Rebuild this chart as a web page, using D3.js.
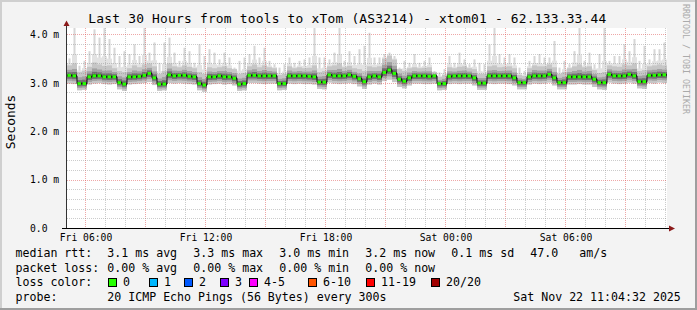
<!DOCTYPE html>
<html>
<head>
<meta charset="utf-8">
<script src="https://d3js.org/d3.v7.min.js"></script>
<style>
  body { margin: 0; background: #f3f3f3; }
  text { font-family: "DejaVu Sans Mono", monospace; fill: #000; }
</style>
</head>
<body>
<div id="chart"></div>
<script>
// ---- data (ms, one value per 15 minute bin) ----
const title = "Last 30 Hours from tools to xTom (AS3214) - xtom01 - 62.133.33.44";
const startTime = new Date(2025, 10, 21, 5, 4, 32);
const endTime = new Date(2025, 10, 22, 11, 4, 32);
const binMinutes = 15;

const median = [3.15,3.14,2.98,2.98,3.12,3.14,3.14,3.12,3.12,3.12,
  3.00,2.97,3.12,3.12,3.13,3.15,3.19,3.10,2.97,2.97,
  3.16,3.14,3.15,3.15,3.13,3.12,2.98,2.95,3.12,3.12,
  3.14,3.12,3.12,3.09,2.97,2.98,3.15,3.15,3.14,3.14,
  3.14,3.14,2.98,2.98,3.14,3.14,3.14,3.14,3.13,3.12,
  3.01,3.01,3.16,3.14,3.14,3.14,3.16,3.13,3.08,3.02,
  3.12,3.14,3.12,3.21,3.26,3.19,3.07,3.03,3.10,3.14,
  3.14,3.14,3.13,3.14,2.98,2.98,3.13,3.14,3.14,3.14,
  3.14,3.10,2.99,2.99,3.14,3.14,3.14,3.14,3.14,3.10,
  3.00,3.00,3.12,3.14,3.14,3.14,3.17,3.10,3.00,3.00,
  3.12,3.12,3.12,3.12,3.12,3.07,3.00,3.00,3.17,3.14,
  3.14,3.14,3.17,3.14,3.02,3.02,3.15,3.15,3.16,3.16];

const low = [2.98,2.97,2.84,2.85,2.96,2.98,2.99,2.97,2.96,2.97,
  2.86,2.83,2.96,2.97,2.98,2.99,3.01,2.95,2.83,2.84,
  2.99,2.98,2.99,2.98,2.97,2.96,2.84,2.81,2.96,2.97,
  2.98,2.96,2.97,2.94,2.83,2.84,2.99,2.99,2.98,2.97,
  2.98,2.98,2.84,2.85,2.98,2.97,2.98,2.97,2.97,2.96,
  2.87,2.86,3.00,2.98,2.97,2.98,2.99,2.97,2.92,2.87,
  2.96,2.98,2.96,3.03,3.06,3.01,2.91,2.88,2.94,2.98,
  2.98,2.97,2.97,2.98,2.84,2.85,2.97,2.98,2.97,2.98,
  2.98,2.94,2.85,2.85,2.98,2.97,2.98,2.98,2.97,2.94,
  2.86,2.86,2.96,2.98,2.97,2.98,3.00,2.94,2.86,2.86,
  2.96,2.96,2.97,2.96,2.96,2.91,2.86,2.85,3.00,2.98,
  2.97,2.98,3.00,2.98,2.88,2.87,2.99,2.98,3.00,2.99];

const high = [3.36,3.40,3.22,3.25,3.33,3.42,3.38,3.35,3.36,3.30,
  3.24,3.22,3.30,3.36,3.32,3.38,3.40,3.34,3.18,3.24,
  3.40,3.34,3.32,3.36,3.33,3.30,3.22,3.18,3.32,3.30,
  3.32,3.34,3.30,3.28,3.18,3.20,3.34,3.38,3.32,3.36,
  3.32,3.30,3.16,3.18,3.34,3.30,3.32,3.30,3.31,3.36,
  3.22,3.24,3.34,3.36,3.40,3.32,3.35,3.30,3.28,3.24,
  3.34,3.32,3.34,3.50,3.56,3.48,3.28,3.24,3.30,3.32,
  3.30,3.31,3.32,3.22,3.12,3.16,3.32,3.30,3.33,3.34,
  3.30,3.28,3.18,3.18,3.34,3.36,3.32,3.33,3.34,3.30,
  3.16,3.14,3.30,3.36,3.34,3.34,3.38,3.32,3.18,3.22,
  3.30,3.34,3.38,3.32,3.34,3.26,3.20,3.22,3.36,3.34,
  3.33,3.38,3.36,3.40,3.24,3.26,3.34,3.36,3.38,3.36];

const maxRtt = [3.50,4.13,3.35,3.45,3.65,4.10,3.93,4.13,3.90,3.72,
  3.55,3.65,3.59,3.79,3.55,4.13,3.62,3.83,3.41,3.83,
  3.93,3.62,3.45,3.72,3.65,3.41,3.79,3.55,3.69,3.62,
  3.48,3.62,3.52,3.31,3.45,3.52,3.59,3.76,3.52,3.72,
  3.45,3.38,3.31,3.38,3.52,3.41,3.45,3.48,3.52,4.13,
  3.52,3.52,3.48,3.62,4.13,3.45,3.65,3.55,3.69,3.76,
  4.03,3.52,3.52,3.59,3.62,3.55,3.31,3.45,3.41,3.59,
  3.41,3.45,3.52,3.24,3.21,3.28,3.55,3.41,3.62,3.48,
  3.38,3.48,3.41,3.38,3.79,4.13,3.59,3.52,3.59,3.52,
  3.31,3.24,3.45,3.55,3.59,3.52,3.52,3.86,3.31,3.45,
  3.38,3.65,4.13,3.45,3.62,3.38,3.59,4.13,3.45,3.55,
  3.55,3.79,3.65,3.90,3.45,3.76,3.48,3.69,3.69,3.83];

const yTicks = [0, 1, 2, 3, 4];
const lossLabels = ["0", "1", "2", "3", "4-5", "6-10", "11-19", "20/20"];
const lossColors = ["#26ff00", "#00b8ff", "#0059ff", "#7e00ff", "#ff00ff", "#ff5500", "#ff0000", "#a10000"];

const legendRows = [
  ["median rtt:", "3.1 ms avg", "3.3 ms max", "3.0 ms min", "3.2 ms now", "0.1 ms sd", "47.0", "am/s"],
  ["packet loss:", "0.00 % avg", "0.00 % max", "0.00 % min", "0.00 % now"],
  ["probe:", "20 ICMP Echo Pings (56 Bytes) every 300s", "Sat Nov 22 11:04:32 2025"]
];

// ---- layout ----
const W = 697, H = 310;
const plot = { left: 67, right: 667, top: 28, bottom: 228 };
const rowX = [[15.5, 107.3, 193.3, 279.3, 365.3, 451.3, 530.3, 579.3],
              [15.5, 107.3, 193.3, 279.3, 365.3],
              [15.5, 107.3, 513.3]];
const rowY = [257.2, 271.6, 300.6];
const lossBoxX = [108.5, 149.5, 184.5, 220.5, 249.5, 308.5, 366.5, 431.5];

const svg = d3.select("#chart").append("svg")
  .attr("width", W).attr("height", H);

svg.append("rect").attr("width", W).attr("height", H).attr("fill", "#f3f3f3");
// shaded frame
svg.append("rect").attr("x", 0).attr("y", 0).attr("width", W).attr("height", 2).attr("fill", "#cfcfcf");
svg.append("rect").attr("x", 0).attr("y", 0).attr("width", 2).attr("height", H).attr("fill", "#cfcfcf");
svg.append("rect").attr("x", 0).attr("y", H - 2).attr("width", W).attr("height", 2).attr("fill", "#9e9e9e");
svg.append("rect").attr("x", W - 2).attr("y", 0).attr("width", 2).attr("height", H).attr("fill", "#9e9e9e");

svg.append("rect")
  .attr("x", plot.left).attr("y", plot.top)
  .attr("width", plot.right - plot.left).attr("height", plot.bottom - plot.top)
  .attr("fill", "#fff");

const x = d3.scaleTime().domain([startTime, endTime]).range([plot.left, plot.right]);
const y = d3.scaleLinear().domain([0, 4.128]).range([plot.bottom, plot.top]).clamp(true);

const bins = median.map((m, i) => ({
  t0: d3.timeMinute.offset(startTime, i * binMinutes),
  t1: d3.timeMinute.offset(startTime, (i + 1) * binMinutes),
  med: m, lo: low[i], hi: high[i], mx: maxRtt[i]
}));

// spikes: a single thin bar up to the slowest ping of each bin
svg.append("g").selectAll("rect").data(bins).join("rect")
  .attr("x", d => x(d.t0) + 1.5)
  .attr("width", 2)
  .attr("y", d => y(d.mx))
  .attr("height", d => Math.max(0, y(d.hi) - y(d.mx)))
  .attr("fill", "#d6d6d6");

// smoke, light outside to dark core
const layers = [
  { color: "#e2e2e2", lo: d => d.hi, hi: d => d.hi + (d.mx - d.hi) * 0.25 },
  { color: "#c6c6c6", lo: d => d.lo, hi: d => d.hi },
  { color: "#a2a2a2", lo: d => d.med - (d.med - d.lo) * 0.65, hi: d => d.med + (d.hi - d.med) * 0.55 },
  { color: "#707070", lo: d => d.med - (d.med - d.lo) * 0.4, hi: d => d.med + (d.hi - d.med) * 0.3 },
  { color: "#3a3a3a", lo: d => d.med - (d.med - d.lo) * 0.18, hi: d => d.med + (d.hi - d.med) * 0.12 }
];
const smoke = svg.append("g");
layers.forEach(l => {
  smoke.append("g").selectAll("rect").data(bins).join("rect")
    .attr("x", d => x(d.t0))
    .attr("width", d => x(d.t1) - x(d.t0))
    .attr("y", d => y(l.hi(d)))
    .attr("height", d => Math.max(0, y(l.lo(d)) - y(l.hi(d))))
    .attr("fill", l.color);
});

// grid (drawn over the smoke, semi transparent like rrdtool)
const grid = svg.append("g").attr("stroke-dasharray", "1,1").attr("stroke-width", 1);
d3.timeHour.every(1).range(startTime, endTime).forEach(t => {
  grid.append("line")
    .attr("x1", Math.round(x(t)) + 0.5).attr("x2", Math.round(x(t)) + 0.5)
    .attr("y1", plot.top).attr("y2", plot.bottom)
    .attr("stroke", t.getHours() % 3 === 0 ? "rgba(222,79,79,0.5)" : "rgba(143,143,143,0.45)");
});
d3.range(1, 21).forEach(k => {
  const v = k * 0.2;
  const yy = Math.round(y(v)) + 0.5;
  grid.append("line")
    .attr("x1", plot.left).attr("x2", plot.right)
    .attr("y1", yy).attr("y2", yy)
    .attr("stroke", k % 5 === 0 ? "rgba(222,79,79,0.5)" : "rgba(143,143,143,0.45)");
});

// median: black step line with loss coloured dashes
const medLine = d3.line().curve(d3.curveStepAfter)
  .x(d => x(d[0])).y(d => y(d[1]));
const medPts = bins.map(d => [d.t0, d.med]).concat([[bins[bins.length - 1].t1, bins[bins.length - 1].med]]);
svg.append("path").datum(medPts)
  .attr("d", medLine).attr("fill", "none").attr("stroke", "#111").attr("stroke-width", 1);
svg.append("g").selectAll("rect").data(bins).join("rect")
  .attr("x", d => x(d.t0) + 0.5)
  .attr("width", d => x(d.t1) - x(d.t0) - 1.5)
  .attr("y", d => y(d.med) - 1.5)
  .attr("height", 3)
  .attr("fill", lossColors[0]);

// axes lines and arrows
svg.append("line").attr("x1", 66.5).attr("x2", 66.5).attr("y1", 229).attr("y2", 25)
  .attr("stroke", "#333").attr("stroke-width", 1);
svg.append("line").attr("x1", 62).attr("x2", 670).attr("y1", 228.5).attr("y2", 228.5)
  .attr("stroke", "#000").attr("stroke-width", 1);
svg.append("path").attr("d", "M66.5,20.5L63.5,26L69.5,26Z").attr("fill", "#8b1a1a");
svg.append("path").attr("d", "M675,228.5L669,225.5L669,231.5Z").attr("fill", "#8b1a1a");

// y labels
const yAxis = svg.append("g").attr("transform", "translate(30,0)")
  .call(d3.axisRight(y).tickValues(yTicks).tickSize(0)
    .tickFormat(v => v === 0 ? "0.0" : d3.format(".1f")(v) + " m"));
yAxis.select(".domain").remove();
yAxis.selectAll("text").attr("x", 0).attr("dy", "0.35em")
  .style("font-family", "DejaVu Sans Mono, monospace").style("font-size", "9.7px").attr("fill", "#000");

// x labels
const xAxis = svg.append("g").attr("transform", `translate(0,${plot.bottom})`)
  .call(d3.axisBottom(x).tickValues(d3.timeHour.every(6).range(startTime, endTime))
    .tickSize(0).tickFormat(d3.timeFormat("%a %H:%M")));
xAxis.select(".domain").remove();
xAxis.selectAll("text").attr("y", 13).attr("dy", 0)
  .style("font-family", "DejaVu Sans Mono, monospace").style("font-size", "9.7px").attr("fill", "#000");

// title and axis title
svg.append("text").attr("x", 88.3).attr("y", 23)
  .attr("textLength", 518).attr("lengthAdjust", "spacing")
  .style("font-size", "12.9px").text(title);
svg.append("text").attr("transform", "translate(14.5,122) rotate(-90)").attr("text-anchor", "middle")
  .style("font-size", "12.9px").text("Seconds");
svg.append("text").attr("transform", "translate(683,4) rotate(90)")
  .style("font-size", "8.3px").style("fill", "#aaa").text("RRDTOOL / TOBI OETIKER");

// legend
legendRows.forEach((row, r) => {
  row.forEach((s, c) => {
    svg.append("text").attr("x", rowX[r][c]).attr("y", rowY[r])
      .style("font-size", "11.6px").text(s);
  });
});
svg.append("text").attr("x", 15.5).attr("y", 286).style("font-size", "11.6px").text("loss color:");
lossLabels.forEach((lab, i) => {
  svg.append("rect").attr("x", lossBoxX[i]).attr("y", 278.5).attr("width", 8).attr("height", 8)
    .attr("fill", lossColors[i]).attr("stroke", "#000").attr("stroke-width", 1);
  svg.append("text").attr("x", lossBoxX[i] + 14.5).attr("y", 286).style("font-size", "11.6px").text(lab);
});
</script>
</body>
</html>
